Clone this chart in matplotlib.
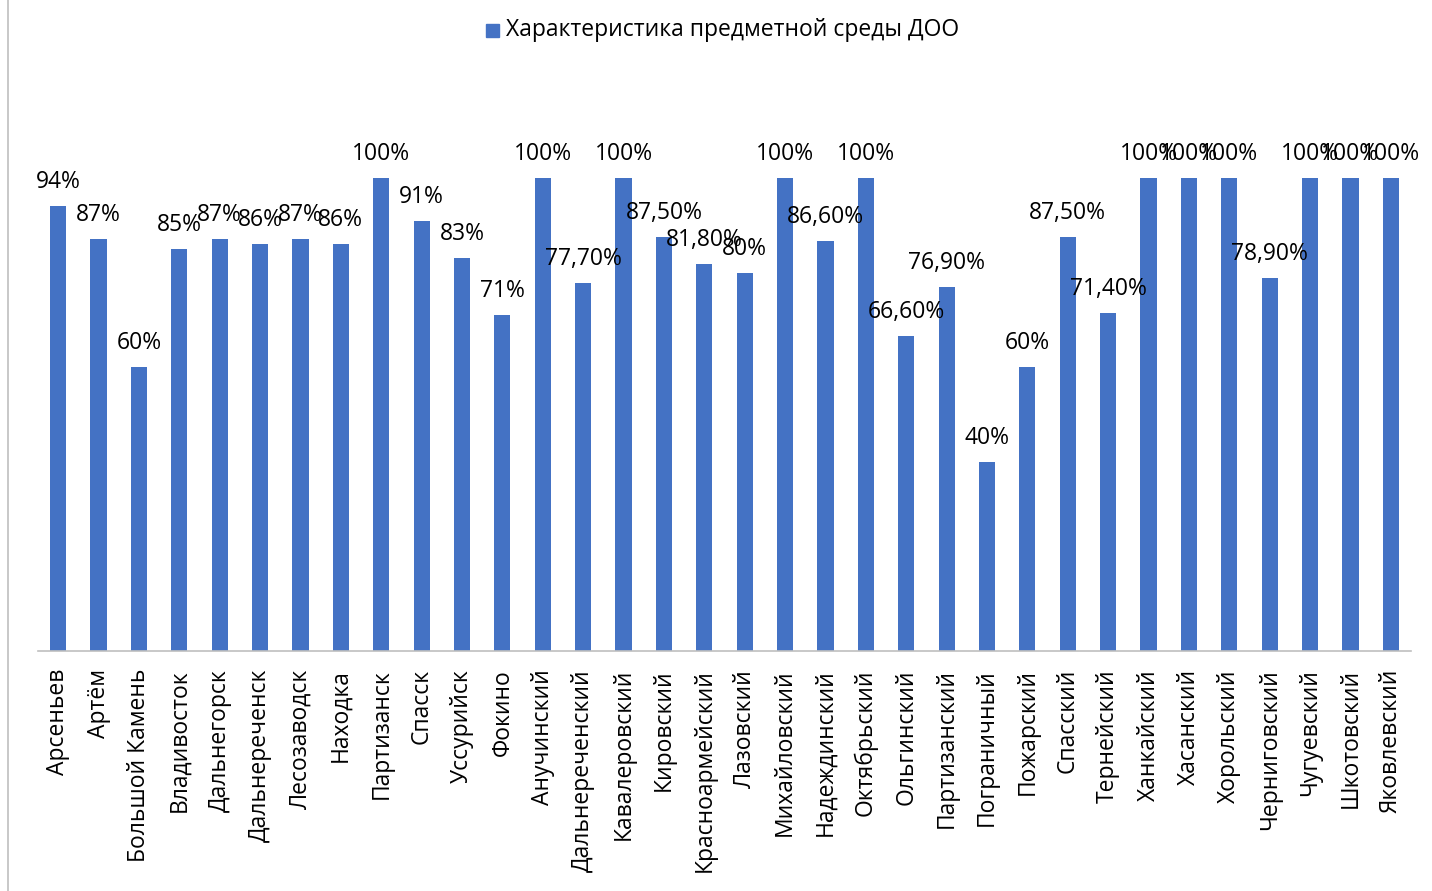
import matplotlib
matplotlib.use("Agg")
import matplotlib.pyplot as plt
from matplotlib.lines import Line2D

plt.rcParams['font.family'] = ['Open Sans', 'DejaVu Sans']

categories = ["Арсеньев", "Артём", "Большой Камень", "Владивосток", "Дальнегорск",
              "Дальнереченск", "Лесозаводск", "Находка", "Партизанск", "Спасск",
              "Уссурийск", "Фокино", "Анучинский", "Дальнереченский", "Кавалеровский",
              "Кировский", "Красноармейский", "Лазовский", "Михайловский", "Надеждинский",
              "Октябрьский", "Ольгинский", "Партизанский", "Пограничный", "Пожарский",
              "Спасский", "Тернейский", "Ханкайский", "Хасанский", "Хорольский",
              "Черниговский", "Чугуевский", "Шкотовский", "Яковлевский"]
values = [94, 87, 60, 85, 87, 86, 87, 86, 100, 91, 83, 71, 100, 77.7, 100, 87.5,
          81.8, 80, 100, 86.6, 100, 66.6, 76.9, 40, 60, 87.5, 71.4, 100, 100, 100,
          78.9, 100, 100, 100]
labels = ["94%", "87%", "60%", "85%", "87%", "86%", "87%", "86%", "100%", "91%",
          "83%", "71%", "100%", "77,70%", "100%", "87,50%", "81,80%", "80%", "100%",
          "86,60%", "100%", "66,60%", "76,90%", "40%", "60%", "87,50%", "71,40%",
          "100%", "100%", "100%", "78,90%", "100%", "100%", "100%"]
series_name = "Характеристика предметной среды ДОО"

W, H = 1432, 891
fig = plt.figure(figsize=(W / 100, H / 100), dpi=100)
ax = fig.add_axes([38 / W, 1 - 651 / H, (1411 - 38) / W, (651 - 83.4) / H])

color = "#4472C4"
x = list(range(len(categories)))
ax.bar(x, values, width=0.4, color=color, zorder=2)
ax.set_xlim(-0.5, len(categories) - 0.5)
ax.set_ylim(0, 120)

for xi, v, lab in zip(x, values, labels):
    ax.annotate(lab, (xi, v), xytext=(0, 13), textcoords="offset points",
                ha="center", va="baseline", fontsize=16.5, color="#000000")

ax.set_xticks(x)
ax.set_xticklabels(categories, rotation=90, fontsize=16.5, va="top", ha="center")
ax.tick_params(axis="x", length=0, pad=13)
ax.set_yticks([])
for s in ["left", "right", "top"]:
    ax.spines[s].set_visible(False)
ax.spines["bottom"].set_color("#BFBFBF")
ax.spines["bottom"].set_linewidth(1.2)

# legend
fig.patches.append(plt.Rectangle((486 / W, 1 - 37 / H), 13 / W, 13 / H,
                                 transform=fig.transFigure, color=color))
fig.text(506 / W, 1 - 30 / H, series_name, fontsize=16.5, va="center", ha="left")

# chart frame left edge
fig.add_artist(Line2D([8 / W, 8 / W], [0, 1], transform=fig.transFigure,
                      color="#BFBFBF", linewidth=1.2))

fig.savefig("out.png", dpi=100)
